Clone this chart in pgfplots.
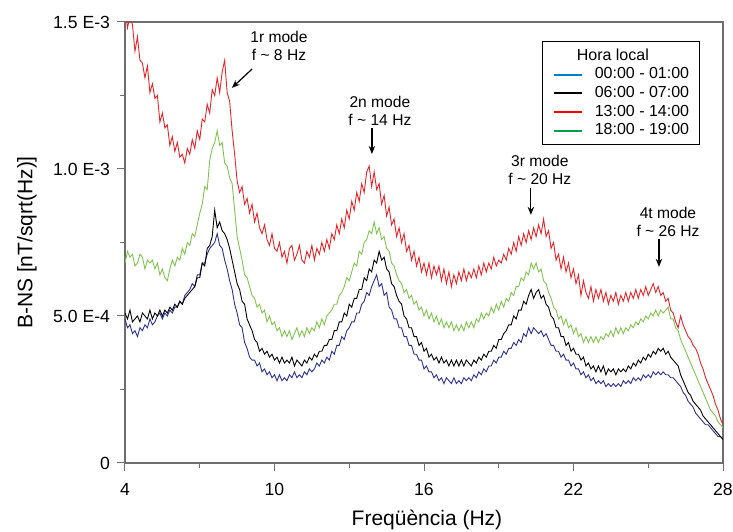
\documentclass[border=0pt]{standalone}
\usepackage{fontspec}
\setmainfont{Liberation Sans}
\usepackage{pgfplots}
\pgfplotsset{compat=1.18}
\usepackage{pgfplotstable}
\usetikzlibrary{arrows.meta}

\definecolor{navyline}{RGB}{45,48,150}
\definecolor{greenline}{RGB}{128,196,78}
\definecolor{redline}{RGB}{232,36,40}
\definecolor{legblue}{RGB}{0,125,200}
\definecolor{leggreen}{RGB}{0,160,75}
\definecolor{frame}{RGB}{110,110,110}

% B-NS spectra, in units of 1E-4 nT/sqrt(Hz)
% f: frequency (Hz); r: 13-14 h; g: 18-19 h; k: 06-07 h; b: 00-01 h
\pgfplotstableread{
f r g k b
4.0 15.5 6.8 5.1 4.9
4.1 14.8 7.2 4.9 4.6
4.2 15.2 7.0 5.2 4.7
4.3 14.9 7.1 4.8 4.4
4.4 14.0 6.7 4.9 4.5
4.5 14.5 6.8 5.0 4.3
4.6 13.7 7.1 4.8 4.6
4.7 13.6 7.0 5.1 4.5
4.8 13.1 6.6 5.0 4.7
4.9 13.5 6.9 4.9 4.6
5.0 12.6 6.8 5.2 4.9
5.1 12.9 6.9 4.9 4.7
5.2 12.4 6.6 5.1 4.8
5.3 12.5 6.8 5.0 5.0
5.4 11.6 6.4 5.2 5.1
5.5 11.9 6.6 5.0 4.9
5.6 11.4 6.3 5.2 5.1
5.7 11.5 6.2 5.1 5.0
5.8 10.8 6.6 5.3 5.2
5.9 11.1 6.9 5.2 5.1
6.0 10.6 6.7 5.4 5.3
6.1 10.9 7.0 5.3 5.3
6.2 10.4 6.9 5.5 5.5
6.3 10.5 7.3 5.4 5.4
6.4 10.2 7.1 5.6 5.7
6.5 10.7 7.5 5.7 5.8
6.6 10.5 7.4 5.8 5.9
6.7 11.0 7.8 5.9 6.1
6.8 10.7 7.7 6.0 6.0
6.9 11.3 8.1 6.3 6.4
7.0 11.0 8.5 6.3 6.4
7.1 11.7 8.8 6.8 6.8
7.2 11.6 9.4 6.7 6.8
7.3 12.2 9.3 7.3 7.1
7.4 11.9 10.3 7.4 7.3
7.5 12.7 10.7 7.7 7.4
7.6 12.5 10.9 8.6 7.5
7.7 13.1 11.3 8.0 7.8
7.8 12.6 10.8 8.2 7.4
7.9 13.3 10.9 7.9 7.3
8.0 13.7 10.2 7.8 6.9
8.1 12.6 10.1 7.6 6.6
8.2 12.3 9.7 7.3 6.2
8.3 11.3 9.5 6.9 5.9
8.4 10.5 8.6 6.5 5.4
8.5 9.6 7.7 6.1 5.1
8.6 9.2 7.3 5.9 4.7
8.7 9.4 6.9 5.5 4.6
8.8 8.8 6.4 5.4 4.1
8.9 9.0 6.3 4.9 3.9
9.0 8.5 6.0 4.7 3.6
9.1 8.8 5.7 4.5 3.5
9.2 8.2 5.6 4.2 3.5
9.3 8.5 5.3 4.1 3.3
9.4 8.0 5.4 3.8 3.4
9.5 7.8 5.1 3.9 3.1
9.6 8.1 5.2 3.7 3.2
9.7 7.6 4.8 3.8 3.0
9.8 7.4 5.0 3.6 3.1
9.9 7.8 4.7 3.7 2.9
10.0 7.3 4.8 3.5 3.0
10.1 7.2 4.5 3.6 2.8
10.2 7.5 4.6 3.4 3.0
10.3 7.0 4.3 3.6 2.8
10.4 7.2 4.5 3.4 2.9
10.5 6.8 4.3 3.5 2.8
10.6 7.3 4.5 3.4 3.0
10.7 7.4 4.2 3.6 2.9
10.8 6.9 4.4 3.3 3.1
10.9 7.1 4.6 3.5 2.9
11.0 7.4 4.3 3.4 3.0
11.1 6.9 4.5 3.3 2.9
11.2 6.8 4.3 3.5 3.1
11.3 7.2 4.6 3.4 3.0
11.4 7.0 4.4 3.6 3.2
11.5 7.4 4.6 3.5 3.1
11.6 6.9 4.5 3.7 3.2
11.7 7.3 4.8 3.6 3.4
11.8 7.1 4.6 3.8 3.3
11.9 7.5 4.9 3.8 3.5
12.0 7.2 4.7 4.0 3.4
12.1 7.6 5.0 4.0 3.6
12.2 7.3 5.1 4.2 3.5
12.3 7.8 5.2 4.2 3.8
12.4 7.6 5.4 4.5 3.7
12.5 8.1 5.4 4.5 4.0
12.6 7.8 5.7 4.8 4.0
12.7 8.3 5.8 4.8 4.3
12.8 8.0 6.0 5.1 4.2
12.9 8.6 6.3 5.0 4.5
13.0 8.3 6.2 5.4 4.6
13.1 8.9 6.5 5.3 4.8
13.2 8.6 6.8 5.6 4.8
13.3 9.2 6.7 5.6 5.1
13.4 8.9 7.2 5.9 5.1
13.5 9.5 7.1 5.9 5.4
13.6 9.2 7.5 6.3 5.5
13.7 9.9 7.6 6.2 5.8
13.8 10.1 7.9 6.6 5.7
13.9 9.4 7.8 6.5 6.0
14.0 9.9 8.2 6.9 6.2
14.1 9.3 7.8 6.8 6.4
14.2 9.5 8.0 7.2 6.0
14.3 8.8 7.6 6.9 6.1
14.4 9.1 7.7 7.0 5.7
14.5 8.4 7.3 6.6 5.8
14.6 8.7 7.2 6.5 5.3
14.7 8.1 6.8 6.1 5.2
14.8 8.3 6.7 6.0 4.9
14.9 7.7 6.4 5.7 4.9
15.0 8.0 6.2 5.5 4.6
15.1 7.5 6.1 5.4 4.6
15.2 7.8 5.8 5.0 4.3
15.3 7.2 5.9 4.9 4.3
15.4 7.4 5.6 4.6 4.0
15.5 6.9 5.7 4.6 4.0
15.6 7.2 5.4 4.3 3.7
15.7 6.7 5.5 4.3 3.7
15.8 7.0 5.2 4.0 3.5
15.9 6.5 5.3 4.1 3.5
16.0 6.8 5.0 3.8 3.2
16.1 6.4 5.2 3.9 3.3
16.2 6.8 4.9 3.6 3.1
16.3 6.3 5.1 3.7 3.1
16.4 6.7 4.8 3.5 2.9
16.5 6.4 5.0 3.6 3.0
16.6 6.7 4.7 3.4 2.8
16.7 6.2 4.9 3.6 2.9
16.8 6.6 4.6 3.4 2.7
16.9 6.1 4.8 3.5 2.9
17.0 6.5 4.6 3.3 2.8
17.1 6.0 4.8 3.5 2.7
17.2 6.4 4.5 3.3 2.9
17.3 6.1 4.7 3.5 2.7
17.4 6.5 4.5 3.3 2.8
17.5 6.2 4.7 3.5 2.7
17.6 6.6 4.5 3.3 2.9
17.7 6.2 4.8 3.5 2.8
17.8 6.5 4.6 3.4 2.9
17.9 6.3 4.8 3.3 2.8
18.0 6.6 4.6 3.5 3.0
18.1 6.3 4.9 3.4 2.9
18.2 6.7 4.8 3.6 3.1
18.3 6.4 5.1 3.5 3.0
18.4 6.8 4.9 3.7 3.2
18.5 6.5 5.1 3.6 3.1
18.6 6.8 5.0 3.8 3.3
18.7 6.6 5.3 3.8 3.3
18.8 7.0 5.1 4.0 3.5
18.9 6.7 5.4 3.9 3.4
19.0 6.9 5.2 4.2 3.6
19.1 6.8 5.5 4.2 3.6
19.2 7.1 5.3 4.4 3.8
19.3 6.9 5.6 4.5 3.7
19.4 7.3 5.5 4.7 3.9
19.5 7.1 5.8 4.7 3.9
19.6 7.5 5.7 5.0 4.1
19.7 7.2 6.0 4.9 4.0
19.8 7.7 6.0 5.2 4.2
19.9 7.4 6.3 5.2 4.1
20.0 7.8 6.2 5.5 4.4
20.1 7.5 6.5 5.4 4.3
20.2 7.9 6.4 5.7 4.6
20.3 7.6 6.8 5.9 4.4
20.4 8.0 6.6 5.6 4.6
20.5 7.7 6.8 5.8 4.5
20.6 8.1 6.5 5.9 4.4
20.7 7.8 6.6 5.6 4.5
20.8 8.3 6.2 5.7 4.3
20.9 7.7 6.1 5.4 4.4
21.0 7.9 5.8 5.3 4.2
21.1 7.3 5.6 5.0 4.0
21.2 7.5 5.3 4.9 4.0
21.3 6.9 5.2 4.6 3.8
21.4 7.1 4.9 4.6 3.8
21.5 6.6 5.0 4.3 3.6
21.6 7.0 4.7 4.3 3.7
21.7 6.5 4.9 4.0 3.5
21.8 6.8 4.6 4.1 3.5
21.9 6.3 4.7 3.8 3.3
22.0 6.6 4.4 3.9 3.4
22.1 6.1 4.6 3.7 3.2
22.2 6.4 4.3 3.7 3.2
22.3 5.7 4.4 3.5 3.0
22.4 6.2 4.1 3.6 3.1
22.5 5.8 4.3 3.3 2.9
22.6 5.6 4.1 3.4 3.0
22.7 6.0 4.3 3.2 2.8
22.8 5.5 4.1 3.3 2.9
22.9 5.9 4.3 3.1 2.7
23.0 5.6 4.1 3.3 2.8
23.1 5.9 4.3 3.1 2.7
23.2 5.5 4.2 3.3 2.8
23.3 5.8 4.4 3.0 2.6
23.4 5.4 4.3 3.2 2.7
23.5 5.7 4.5 3.1 2.6
23.6 5.5 4.3 3.2 2.7
23.7 5.8 4.6 3.0 2.6
23.8 5.4 4.4 3.2 2.7
23.9 5.7 4.6 3.1 2.6
24.0 5.5 4.4 3.2 2.8
24.1 5.8 4.6 3.1 2.7
24.2 5.5 4.5 3.3 2.8
24.3 5.8 4.7 3.2 2.7
24.4 5.6 4.6 3.4 2.9
24.5 5.9 4.8 3.3 2.8
24.6 5.6 4.7 3.5 2.9
24.7 5.9 4.9 3.4 2.8
24.8 5.7 4.8 3.6 3.0
24.9 6.0 5.0 3.5 2.9
25.0 5.7 4.9 3.7 3.0
25.1 5.9 5.1 3.6 2.9
25.2 6.1 5.0 3.8 3.1
25.3 5.8 5.2 3.7 3.0
25.4 6.0 5.0 3.9 3.1
25.5 5.7 5.2 3.8 3.0
25.6 5.8 5.1 3.9 3.1
25.7 5.5 5.2 3.7 3.0
25.8 5.6 5.3 3.8 3.0
25.9 5.2 4.9 3.6 2.9
26.0 5.1 4.9 3.5 2.9
26.1 4.8 4.6 3.4 2.8
26.2 4.6 4.5 3.3 2.7
26.3 5.0 4.2 3.0 2.6
26.4 4.7 4.0 2.8 2.4
26.5 4.5 3.8 2.6 2.3
26.6 4.3 3.6 2.4 2.1
26.7 4.2 3.4 2.3 2.0
26.8 4.0 3.2 2.1 1.9
26.9 3.9 3.0 2.0 1.7
27.0 3.7 2.8 1.9 1.6
27.1 3.4 2.6 1.8 1.5
27.2 3.2 2.4 1.6 1.4
27.3 2.9 2.2 1.5 1.3
27.4 2.7 2.0 1.4 1.3
27.5 2.5 1.8 1.3 1.2
27.6 2.3 1.7 1.2 1.1
27.7 2.0 1.6 1.1 1.0
27.8 1.8 1.4 1.0 0.9
27.9 1.5 1.3 0.9 0.9
28.0 1.3 1.2 0.8 0.8
}\spectra

\begin{document}
\begin{tikzpicture}
\begin{axis}[
    name=ax,
    scale only axis,
    width=299pt, height=220.5pt,
    xmin=4, xmax=28, ymin=0, ymax=15,
    xtick={4,10,16,22,28}, xticklabels={4,10,16,22,28},
    minor xtick={7,13,19,25},
    ytick={0,5,10,15}, yticklabels={0,5.0 E-4,1.0 E-3,1.5 E-3},
    minor ytick={2.5,7.5,12.5},
    xtick pos=bottom, ytick pos=left,
    tick align=outside,
    major tick length=4pt, minor tick length=2.5pt,
    every tick/.style={frame, line width=0.5pt},
    axis line style={frame, line width=0.6pt},
    ticklabel style={font=\fontsize{8.8}{10}\selectfont},
    xticklabel style={yshift=-2.5pt},
    xlabel={Freqüència (Hz)},
    ylabel={B-NS [nT/sqrt(Hz)]},
    label style={font=\fontsize{10.5}{12}\selectfont},
    xlabel style={at={(axis description cs:0.505,-0.129)}, anchor=center},
    ylabel style={at={(axis description cs:-0.164,0.5)}, anchor=center},
    legend image code/.code={\draw[#1] (0pt,0pt) -- (14pt,0pt);},
    legend style={at={(0.697,0.957)}, anchor=north west,
        draw=black, line width=0.6pt, fill=white,
        font=\fontsize{8}{9.6}\selectfont,
        inner xsep=5.2pt, inner ysep=2.5pt, row sep=0pt, column sep=6pt,
        nodes={inner xsep=0pt, inner ysep=1.1pt}},
    legend cell align=left,
]
\addplot[navyline, line width=0.45pt, forget plot] table[x=f, y=b] {\spectra};
\addplot[black, line width=0.45pt, forget plot] table[x=f, y=k] {\spectra};
\addplot[greenline, line width=0.45pt, forget plot] table[x=f, y=g] {\spectra};
\addplot[redline, line width=0.45pt, forget plot] table[x=f, y=r] {\spectra};

\addlegendimage{empty legend}
\addlegendentry{\hspace*{-9pt}Hora local\rule[-1.5pt]{0pt}{1.5pt}}
\addlegendimage{legblue, line width=1pt}
\addlegendentry{00:00 - 01:00}
\addlegendimage{black, line width=1pt}
\addlegendentry{06:00 - 07:00}
\addlegendimage{red, line width=1pt}
\addlegendentry{13:00 - 14:00}
\addlegendimage{leggreen, line width=1pt}
\addlegendentry{18:00 - 19:00}

\begin{scope}[font=\fontsize{7.8}{9}\selectfont]
\node[align=center] at (axis cs:10.18,14.18) {1r mode\\f \textasciitilde{} 8 Hz};
\draw[line width=0.6pt, -{Stealth[length=4pt,width=3.2pt]}] (axis cs:9.10,13.40) -- (axis cs:8.29,12.76);
\node[align=center] at (axis cs:14.23,11.97) {2n mode\\f \textasciitilde{} 14 Hz};
\draw[line width=0.6pt, -{Stealth[length=4pt,width=3.2pt]}] (axis cs:13.91,11.39) -- (axis cs:13.91,10.51);
\node[align=center] at (axis cs:20.65,9.97) {3r mode\\f \textasciitilde{} 20 Hz};
\draw[line width=0.6pt, -{Stealth[length=4pt,width=3.2pt]}] (axis cs:20.29,9.35) -- (axis cs:20.29,8.44);
\node[align=center] at (axis cs:25.79,8.20) {4t mode\\f \textasciitilde{} 26 Hz};
\draw[line width=0.6pt, -{Stealth[length=4pt,width=3.2pt]}] (axis cs:25.43,7.62) -- (axis cs:25.43,6.67);
\end{scope}
\end{axis}
\pgfresetboundingbox
\path[use as bounding box] ([xshift=-62.5pt,yshift=-34.5pt]ax.south west) rectangle ([xshift=5pt,yshift=11pt]ax.north east);
\end{tikzpicture}
\end{document}
